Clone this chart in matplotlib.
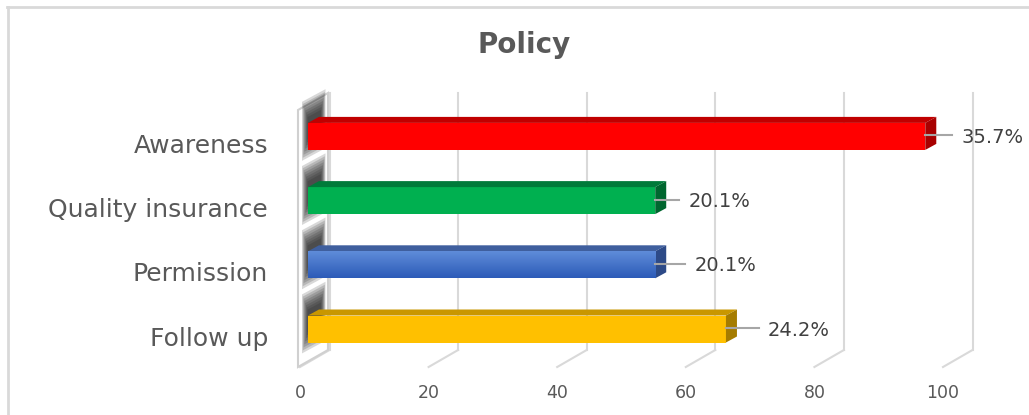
import numpy as np
import matplotlib.pyplot as plt
from matplotlib.patches import Polygon
from matplotlib.lines import Line2D
from matplotlib.colors import LinearSegmentedColormap
import matplotlib.transforms as mtransforms

# data (top to bottom as shown)
categories = ['Awareness', 'Quality insurance', 'Permission', 'Follow up']
counts = [96, 54, 54, 65]
pct_labels = ['35.7%', '20.1%', '20.1%', '24.2%']
xticks = [0, 20, 40, 60, 80, 100]

# styles
front_colors = ['#FF0000', '#00B050', '#4472C4', '#FFC000']
top_colors = ['#C00000', '#007A3A', '#3F5F9E', '#C99700']
side_colors = ['#A80000', '#00662F', '#2D4A87', '#A57C00']
leader_px = [27, 24, 30, 33]
txt_gray = '#595959'
grid_gray = '#D9D9D9'

W, H = 1029, 415
fig = plt.figure(figsize=(W / 100, H / 100), dpi=100)

# x: 0..100 -> px 300..943 ; y: index -> px 329 - 64.2*i
SX, SY = 6.43, 64.2
ylo, yhi = (329 - 367) / SY, (329 - 93) / SY
ax = fig.add_axes([300 / W, 1 - 367 / H, 643 / W, (367 - 93) / H])
ax.set_xlim(0, 100)
ax.set_ylim(ylo, yhi)


def px(dx=0, dy=0):
    return dx / SX, dy / SY


# back wall gridlines + floor diagonals
wall_dx, wall_dy = px(29.5, 17)
wall_bot = ylo + wall_dy
for t in xticks:
    ax.plot([t + wall_dx, t + wall_dx], [wall_bot, yhi], color=grid_gray, lw=1.5,
            zorder=1, clip_on=False)
    ax.plot([t, t + wall_dx], [ylo, wall_bot], color=grid_gray, lw=1.5,
            zorder=1, clip_on=False)

# left side wall
wl = -2 / SX
wall = Polygon([(wl, ylo), (wl, (329 - 110) / SY), (wall_dx - 1.5 / SX, yhi),
                (wall_dx - 1.5 / SX, wall_bot)], closed=True, facecolor='white',
               edgecolor='#D0D0D0', lw=1.5, zorder=2, clip_on=False)
ax.add_patch(wall)

n = len(categories)
ypos = [n - 1 - i for i in range(n)]
bar_h = 27 / SY
off = 8 / SX
ddx, ddy = px(11, 6)

# soft shadows of the bars on the side wall
slope = wall_dy / (wall_dx - wl)
for y in ypos:
    for k in range(8):
        s = k * 0.8 / SX
        v = k * 2.6 / SY
        x0, x1 = 2 / SX + s, wall_dx - 4 / SX - s * 0.8
        b0, t0 = y - bar_h / 2 - 12 / SY + v, y + bar_h / 2 + 20 / SY - v
        poly = Polygon([(x0, b0 + slope * x0), (x0, t0 + slope * x0),
                        (x1, t0 + slope * x1), (x1, b0 + slope * x1)],
                       closed=True, facecolor='#1A1A1A', edgecolor='none',
                       alpha=0.17, zorder=3, clip_on=False)
        ax.add_patch(poly)

# bars (front faces)
bars = ax.barh(ypos, counts, left=off, height=bar_h, color=front_colors,
               zorder=5)

# gradient on the blue bar
cmap = LinearSegmentedColormap.from_list('blu', ['#2C5BB8', '#5F8CD9'])
b = bars[2]
grad = np.linspace(0, 1, 50).reshape(-1, 1)
im = ax.imshow(grad, cmap=cmap, aspect='auto', origin='lower', zorder=5.5,
               extent=[off, off + counts[2], ypos[2] - bar_h / 2, ypos[2] + bar_h / 2])
im.set_clip_path(b)
ax.set_xlim(0, 100)
ax.set_ylim(ylo, yhi)

# top and side faces
for y, v, tc, sc in zip(ypos, counts, top_colors, side_colors):
    yt, yb = y + bar_h / 2, y - bar_h / 2
    xr = off + v
    ax.add_patch(Polygon([(off, yt), (off + ddx, yt + ddy), (xr + ddx, yt + ddy),
                          (xr, yt)], closed=True, facecolor=tc, edgecolor='none',
                         zorder=5))
    ax.add_patch(Polygon([(xr, yb), (xr, yt), (xr + ddx, yt + ddy),
                          (xr + ddx, yb + ddy)], closed=True, facecolor=sc,
                         edgecolor='none', zorder=5))

# data labels with leader lines
for y, v, lab, L in zip(ypos, counts, pct_labels, leader_px):
    xr = off + v
    ax.plot([xr, xr + L / SX], [y + 1 / SY, y + 1 / SY], color='#A6A6A6', lw=1.5,
            zorder=6, clip_on=False)
    ax.text(xr + (L + 9) / SX, y - 1 / SY, lab, ha='left', va='center',
            fontsize=14, color='#404040', zorder=7, clip_on=False)

# axes ticks
ax.set_xticks(xticks)
ax.set_xticklabels([str(t) for t in xticks])
ax.set_yticks(ypos)
ax.set_yticklabels(categories)
ax.tick_params(axis='x', length=0, pad=12, labelsize=12.5, labelcolor=txt_gray)
ax.tick_params(axis='y', length=0, pad=23, labelsize=18, labelcolor=txt_gray)
shift = mtransforms.ScaledTranslation(0, -7 / 100, fig.dpi_scale_trans)
for lbl in ax.get_yticklabels():
    lbl.set_transform(lbl.get_transform() + shift)
for sp in ax.spines.values():
    sp.set_visible(False)
ax.patch.set_alpha(0)

# title
fig.text(524 / W, 1 - 45 / H, 'Policy', ha='center', va='center',
         fontsize=20, fontweight='bold', color=txt_gray)

# chart frame (top and left edges visible)
fig.add_artist(Line2D([7 / W, 1], [1 - 7 / H, 1 - 7 / H], transform=fig.transFigure,
                      color=grid_gray, lw=2))
fig.add_artist(Line2D([7.5 / W, 7.5 / W], [0, 1 - 7 / H], transform=fig.transFigure,
                      color=grid_gray, lw=2))

fig.savefig('out.png', dpi=100)
